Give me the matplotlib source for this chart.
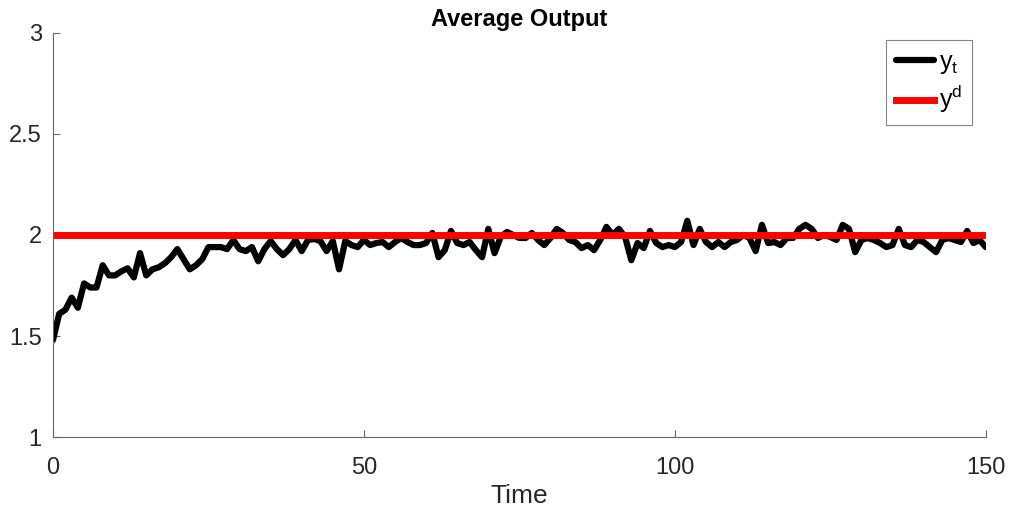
import numpy as np
import matplotlib
import matplotlib.pyplot as plt

matplotlib.use('Agg')

plt.rcParams['font.family'] = ['Liberation Sans', 'DejaVu Sans']
plt.rcParams['mathtext.default'] = 'regular'

# average output per time step
y_avg = [
    1.48, 1.61, 1.63, 1.69, 1.64, 1.76, 1.74, 1.74, 1.85, 1.80,
    1.80, 1.82, 1.835, 1.79, 1.91, 1.80, 1.83, 1.84, 1.86, 1.89,
    1.93, 1.88, 1.83, 1.85, 1.88, 1.94, 1.94, 1.94, 1.93, 1.975,
    1.93, 1.92, 1.94, 1.87, 1.93, 1.97, 1.93, 1.90, 1.93, 1.975,
    1.92, 1.975, 1.98, 1.97, 1.92, 1.97, 1.83, 1.97, 1.95, 1.94,
    1.975, 1.95, 1.96, 1.965, 1.94, 1.965, 1.985, 1.965, 1.95, 1.95,
    1.96, 2.01, 1.89, 1.925, 2.02, 1.96, 1.95, 1.965, 1.925, 1.89,
    2.03, 1.91, 1.99, 2.015, 2.0, 1.985, 1.985, 2.01, 1.975, 1.95,
    1.985, 2.03, 2.01, 1.975, 1.965, 1.935, 1.95, 1.925, 1.975, 2.04,
    2.0, 2.03, 1.99, 1.875, 1.96, 1.935, 2.02, 1.96, 1.94, 1.95,
    1.94, 1.965, 2.07, 1.95, 2.03, 1.965, 1.94, 1.965, 1.94, 1.965,
    1.975, 2.0, 1.985, 1.92, 2.05, 1.96, 1.965, 1.95, 1.985, 1.985,
    2.03, 2.05, 2.03, 1.985, 2.0, 1.99, 1.975, 2.05, 2.03, 1.915,
    1.975, 1.985, 1.975, 1.96, 1.94, 1.95, 2.03, 1.95, 1.94, 1.975,
    1.965, 1.94, 1.915, 1.975, 1.985, 1.975, 1.965, 2.02, 1.96, 1.975,
    1.94,
]
y_desired = 2.0
t = np.arange(len(y_avg))

fig = plt.figure(figsize=(10.09, 5.13), dpi=100)
ax = fig.add_axes([0.0525, 0.148, 0.9245, 0.788])

ax.plot(t, y_avg, color='black', lw=4.5, label='$y_t$',
        solid_joinstyle='round', solid_capstyle='round')
ax.plot([t[0], t[-1]], [y_desired, y_desired], color='red', lw=5, label='$y^d$')

ax.set_xlim(0, 150)
ax.set_ylim(1, 3)
ax.set_xticks([0, 50, 100, 150])
ax.set_yticks([1, 1.5, 2, 2.5, 3])
ax.set_yticklabels(['1', '1.5', '2', '2.5', '3'])

ax.spines['top'].set_visible(False)
ax.spines['right'].set_visible(False)
for s in ('left', 'bottom'):
    ax.spines[s].set_color('#666666')
    ax.spines[s].set_linewidth(0.8)
ax.tick_params(direction='in', length=5, width=0.8, color='#666666',
               labelcolor='#262626', labelsize=17)
ax.tick_params(axis='x', pad=14)
ax.tick_params(axis='y', pad=8)

ax.set_xlabel('Time', fontsize=19, color='#262626', labelpad=4)
ax.set_title('Average Output', fontsize=17, fontweight='bold', pad=5)

leg = ax.legend(loc='upper right', bbox_to_anchor=(0.985, 0.983), fontsize=18,
                fancybox=False, edgecolor='#666666', handlelength=1.5,
                handletextpad=0.2, borderpad=0.4, labelspacing=0.3,
                borderaxespad=0)
leg.get_frame().set_linewidth(0.8)

fig.savefig('out.png', dpi=100)
